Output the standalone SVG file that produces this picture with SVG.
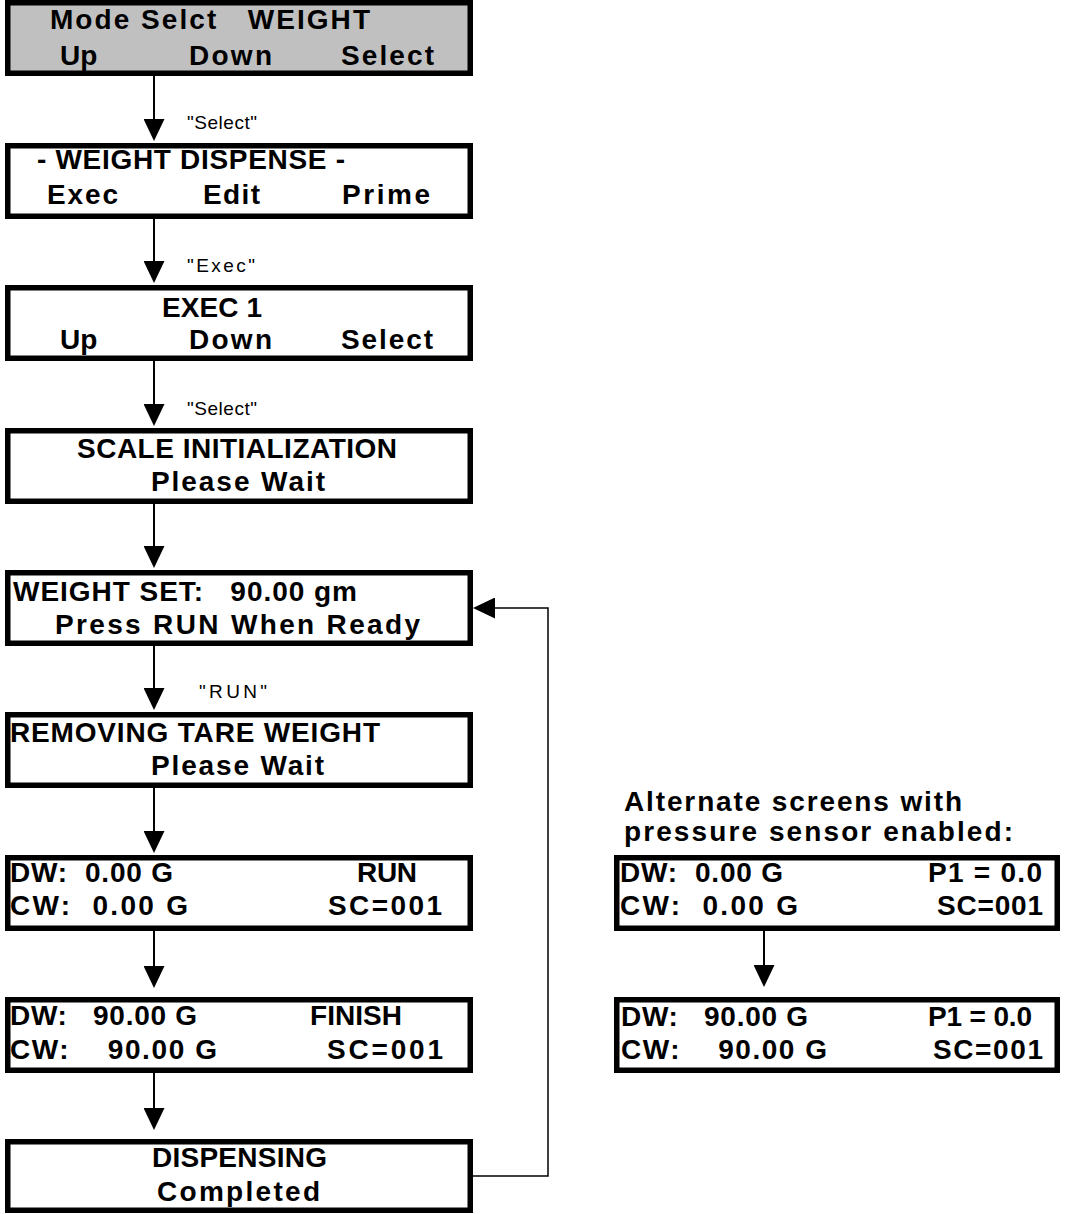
<svg xmlns="http://www.w3.org/2000/svg" width="1065" height="1214" viewBox="0 0 1065 1214">
<style>
.box{fill:#ffffff;stroke:#000000;stroke-width:5.5}
.gray{fill:#c0c0c0}
.t{font-family:"Liberation Sans",Arial,sans-serif;font-weight:bold;font-size:28px;fill:#000000}
.lbl{font-family:"Liberation Sans",Arial,sans-serif;font-size:19px;fill:#000000}
.wire{stroke:#000000;stroke-width:2;fill:none}
.thin{stroke-width:1.5}
</style>
<defs>
<marker id="ah" viewBox="0 0 22 21" refX="12" refY="10.5" markerWidth="22" markerHeight="21" orient="auto" markerUnits="userSpaceOnUse">
<path d="M0,0 L22,10.5 L0,21 Z" fill="#000000"/>
</marker>
</defs>
<rect width="1065" height="1214" fill="#ffffff"/>

<g id="connectors">
<line class="wire" x1="154" y1="76" x2="154" y2="131" marker-end="url(#ah)"/>
<line class="wire" x1="154" y1="219" x2="154" y2="273" marker-end="url(#ah)"/>
<line class="wire" x1="154" y1="361" x2="154" y2="416" marker-end="url(#ah)"/>
<line class="wire" x1="154" y1="504" x2="154" y2="558" marker-end="url(#ah)"/>
<line class="wire" x1="154" y1="646" x2="154" y2="700" marker-end="url(#ah)"/>
<line class="wire" x1="154" y1="788" x2="154" y2="843" marker-end="url(#ah)"/>
<line class="wire" x1="154" y1="931" x2="154" y2="978" marker-end="url(#ah)"/>
<line class="wire" x1="154" y1="1073" x2="154" y2="1120" marker-end="url(#ah)"/>
<path class="wire thin" d="M473,1176 H548 V608 H483" marker-end="url(#ah)"/>
<line class="wire" x1="764" y1="931" x2="764" y2="977" marker-end="url(#ah)"/>
<text class="lbl" x="187" y="129" textLength="70" lengthAdjust="spacing">"Select"</text>
<text class="lbl" x="187" y="272" textLength="68" lengthAdjust="spacing">"Exec"</text>
<text class="lbl" x="187" y="415" textLength="70" lengthAdjust="spacing">"Select"</text>
<text class="lbl" x="199" y="698" textLength="68" lengthAdjust="spacing">"RUN"</text>
</g>

<g id="mode-select">
<rect class="box gray" x="7.75" y="2.75" width="462.5" height="70.5"/>
<text class="t" xml:space="preserve" x="50" y="29" textLength="320" lengthAdjust="spacing">Mode Selct   WEIGHT</text>
<text class="t" x="60" y="65">Up</text>
<text class="t" x="189" y="65" textLength="83" lengthAdjust="spacing">Down</text>
<text class="t" x="341" y="65" textLength="93" lengthAdjust="spacing">Select</text>
</g>

<g id="weight-dispense">
<rect class="box" x="7.75" y="145.75" width="462.5" height="70.5"/>
<text class="t" x="37" y="169" textLength="308" lengthAdjust="spacing">- WEIGHT DISPENSE -</text>
<text class="t" x="47" y="204" textLength="71" lengthAdjust="spacing">Exec</text>
<text class="t" x="203" y="204" textLength="57" lengthAdjust="spacing">Edit</text>
<text class="t" x="342" y="204" textLength="88" lengthAdjust="spacing">Prime</text>
</g>

<g id="exec1">
<rect class="box" x="7.75" y="287.75" width="462.5" height="70.5"/>
<text class="t" x="162" y="317" textLength="100" lengthAdjust="spacing">EXEC 1</text>
<text class="t" x="60" y="349">Up</text>
<text class="t" x="189" y="349" textLength="83" lengthAdjust="spacing">Down</text>
<text class="t" x="341" y="349" textLength="92" lengthAdjust="spacing">Select</text>
</g>

<g id="scale-init">
<rect class="box" x="7.75" y="430.75" width="462.5" height="70.5"/>
<text class="t" x="77" y="458" textLength="320" lengthAdjust="spacing">SCALE INITIALIZATION</text>
<text class="t" x="151" y="491" textLength="174" lengthAdjust="spacing">Please Wait</text>
</g>

<g id="weight-set">
<rect class="box" x="7.75" y="572.75" width="462.5" height="70.5"/>
<text class="t" xml:space="preserve" x="13" y="601" textLength="344" lengthAdjust="spacing">WEIGHT SET:   90.00 gm</text>
<text class="t" x="55" y="634" textLength="365" lengthAdjust="spacing">Press RUN When Ready</text>
</g>

<g id="removing-tare">
<rect class="box" x="7.75" y="714.75" width="462.5" height="70.5"/>
<text class="t" x="10" y="742" textLength="370" lengthAdjust="spacing">REMOVING TARE WEIGHT</text>
<text class="t" x="151" y="775" textLength="173" lengthAdjust="spacing">Please Wait</text>
</g>

<g id="run-screen">
<rect class="box" x="7.75" y="857.75" width="462.5" height="70.5"/>
<text class="t" xml:space="preserve" x="10" y="882" textLength="163" lengthAdjust="spacing">DW:  0.00 G</text>
<text class="t" x="357" y="882" textLength="60" lengthAdjust="spacing">RUN</text>
<text class="t" xml:space="preserve" x="10" y="915" textLength="178" lengthAdjust="spacing">CW:  0.00 G</text>
<text class="t" x="328" y="915" textLength="114" lengthAdjust="spacing">SC=001</text>
</g>

<g id="finish-screen">
<rect class="box" x="7.75" y="999.75" width="462.5" height="70.5"/>
<text class="t" xml:space="preserve" x="10" y="1025" textLength="187" lengthAdjust="spacing">DW:   90.00 G</text>
<text class="t" x="310" y="1025" textLength="92" lengthAdjust="spacing">FINISH</text>
<text class="t" xml:space="preserve" x="10" y="1059" textLength="207" lengthAdjust="spacing">CW:    90.00 G</text>
<text class="t" x="327" y="1059" textLength="116" lengthAdjust="spacing">SC=001</text>
</g>

<g id="dispensing-completed">
<rect class="box" x="7.75" y="1141.75" width="462.5" height="68.5"/>
<text class="t" x="152" y="1167" textLength="175" lengthAdjust="spacing">DISPENSING</text>
<text class="t" x="157" y="1201" textLength="163" lengthAdjust="spacing">Completed</text>
</g>

<g id="alternate-heading">
<text class="t" x="624" y="811" textLength="338" lengthAdjust="spacing">Alternate screens with</text>
<text class="t" x="624" y="841" textLength="389" lengthAdjust="spacing">pressure sensor enabled:</text>
</g>

<g id="alt-run-screen">
<rect class="box" x="616.75" y="857.75" width="440.5" height="70.5"/>
<text class="t" xml:space="preserve" x="620" y="882" textLength="163" lengthAdjust="spacing">DW:  0.00 G</text>
<text class="t" xml:space="preserve" x="928" y="882" textLength="114" lengthAdjust="spacing">P1 = 0.0</text>
<text class="t" xml:space="preserve" x="620" y="915" textLength="178" lengthAdjust="spacing">CW:  0.00 G</text>
<text class="t" x="937" y="915" textLength="106" lengthAdjust="spacing">SC=001</text>
</g>

<g id="alt-finish-screen">
<rect class="box" x="616.75" y="999.75" width="440.5" height="70.5"/>
<text class="t" xml:space="preserve" x="621" y="1026" textLength="187" lengthAdjust="spacing">DW:   90.00 G</text>
<text class="t" xml:space="preserve" x="928" y="1026" textLength="104" lengthAdjust="spacing">P1 = 0.0</text>
<text class="t" xml:space="preserve" x="621" y="1059" textLength="206" lengthAdjust="spacing">CW:    90.00 G</text>
<text class="t" x="933" y="1059" textLength="110" lengthAdjust="spacing">SC=001</text>
</g>
</svg>
